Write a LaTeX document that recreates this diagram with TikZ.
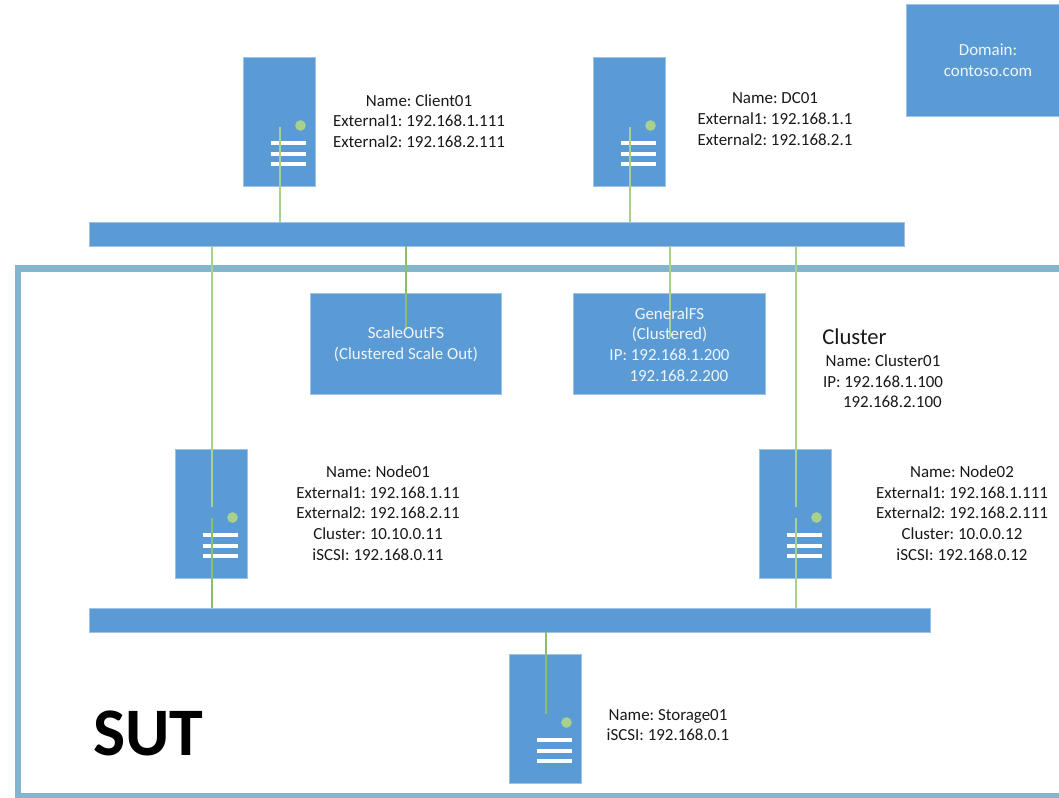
\documentclass[tikz,border=0pt]{standalone}
\usepackage{fontspec}
\setmainfont{Carlito}
\usetikzlibrary{calc}

\definecolor{boxblue}{HTML}{5B9BD5}
\definecolor{linkgreen}{HTML}{A9D18E}
\definecolor{thingreen}{HTML}{8CC068}
\definecolor{sutblue}{HTML}{84B5CF}

\tikzset{
  solidbox/.style={draw=boxblue!60!white, line width=0.4pt, fill=boxblue, inner sep=0, outer sep=0},
  server/.style={solidbox, minimum width=54pt, minimum height=96.75pt},
  bus/.style={solidbox, minimum height=18pt},
  led/.style={circle, fill=linkgreen, inner sep=0, minimum size=8pt},
  label/.style={align=center, inner sep=0, font=\fontsize{12.7}{15.5}\selectfont, text=black!90},
  boxlabel/.style={label, text=white!90!boxblue},
  link/.style={draw=linkgreen, line width=0.9pt},
  thinlink/.style={draw=thingreen, line width=1pt},
  thicklink/.style={draw=linkgreen, line width=1.5pt}
}

\begin{document}
\frenchspacing
\begin{tikzpicture}[x=0.75pt, y=-0.75pt]
\useasboundingbox (0,0) rectangle (1059,797);
\fill[white] (0,0) rectangle (1059,797);
% Frame
\coordinate (sutne) at (1059,268.5);
\coordinate (sutnw) at (18,268.5);
\coordinate (sutsw) at (18,796);
\coordinate (sutse) at (1059,796);
\draw[sutblue, line width=4.8pt] (sutne) -- (sutnw) -- (sutsw) -- (sutse);
% Buses
\node[bus, minimum width=611pt] (topbus) at (497,234) {};
\node[bus, minimum width=630.75pt] (lowbus) at (510,620) {};
% Servers
\node[server] (client) at (279.5,121.5) {};
\node[server] (dc) at (629.5,121.5) {};
\node[server] (node1) at (211.5,513.5) {};
\node[server] (node2) at (795.5,513.5) {};
\node[server] (storage) at (545.5,718.5) {};
\foreach \s in {client,dc,node1,node2,storage}{
  \node[led] (led\s) at ($(\s.north west)+(57,68.5)$) {};
  \foreach \k/\h in {a/86,b/97,c/107}{
    \coordinate (\s\k1) at ($(\s.north west)+(27,\h)$);
    \coordinate (\s\k2) at ($(\s.north west)+(62,\h)$);
    \draw[white, line width=2.5pt] (\s\k1) -- (\s\k2);
  }
}
% Boxes
\node[solidbox, minimum width=143.25pt, minimum height=75.75pt] (scaleout) at (405.5,343.5) {};
\node[solidbox, minimum width=144pt, minimum height=75.75pt] (general) at (669,343.5) {};
\node[solidbox, minimum width=115pt, minimum height=84pt] (domain) at (983,60) {};
% Links
\coordinate (tapclient) at (280,127);
\coordinate (tapdc) at (630,127);
\coordinate (tapnode1) at (212,507);
\coordinate (tapnode1b) at (212,518);
\coordinate (tapnode2) at (796,507);
\coordinate (tapnode2b) at (796,518);
\coordinate (tapscale) at (406,330);
\coordinate (tapgeneral) at (670,337);
\coordinate (tapstorage) at (546,714);
\draw[link] (tapclient) -- (tapclient |- topbus.north);
\draw[link] (tapdc) -- (tapdc |- topbus.north);
\draw[thicklink] (topbus.south -| tapnode1) -- (tapnode1);
\draw[thinlink] (tapnode1b) -- (tapnode1b |- lowbus.north);
\draw[thicklink] (topbus.south -| tapnode2) -- (tapnode2);
\draw[thicklink] (tapnode2b) -- (tapnode2b |- lowbus.north);
\draw[thinlink] (topbus.south -| tapscale) -- (tapscale);
\draw[thicklink] (topbus.south -| tapgeneral) -- (tapgeneral);
\draw[thinlink] (lowbus.south -| tapstorage) -- (tapstorage);
% Labels
\node[label] (clientlabel) at (419,121) {Name: Client01\\External1: 192.168.1.111\\External2: 192.168.2.111};
\node[label] (dclabel) at (775,119) {Name: DC01\\External1: 192.168.1.1\\External2: 192.168.2.1};
\node[boxlabel] (domainlabel) at (988,60) {Domain:\\contoso.com};
\node[boxlabel] (scalelabel) at (406,344.5) {ScaleOutFS\\(Clustered Scale Out)};
\node[boxlabel] (generallabel) at (669.5,344.5) {GeneralFS\\(Clustered)\\IP: 192.168.1.200\\\hspace*{14pt}192.168.2.200};
\node[label, font=\fontsize{17}{20}\selectfont, anchor=west] (clustertitle) at (822,337) {Cluster};
\node[label] (clusterlabel) at (883,381.5) {Name: Cluster01\\IP: 192.168.1.100\\\hspace*{14pt}192.168.2.100};
\node[label] (node1label) at (378,513) {Name: Node01\\External1: 192.168.1.11\\External2: 192.168.2.11\\Cluster: 10.10.0.11\\iSCSI: 192.168.0.11};
\node[label] (node2label) at (962,513) {Name: Node02\\External1: 192.168.1.111\\External2: 192.168.2.111\\Cluster: 10.0.0.12\\iSCSI: 192.168.0.12};
\node[label] (storagelabel) at (668,725) {Name: Storage01\\iSCSI: 192.168.0.1};
\node[label, font=\fontsize{51}{51}\selectfont\bfseries, text=black, anchor=west] (sut) at (93,733) {SUT};
\end{tikzpicture}
\end{document}
